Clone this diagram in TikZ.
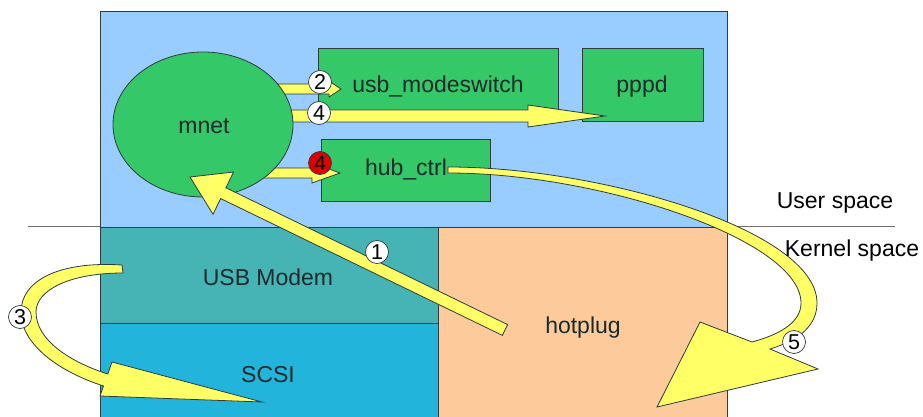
\documentclass[tikz,border=0pt]{standalone}
\usepackage{fontspec}
\setmainfont{Liberation Sans}
\usetikzlibrary{calc,shapes.geometric}

\definecolor{c99ccff}{RGB}{153,204,255}
\definecolor{c34c868}{RGB}{52,200,104}
\definecolor{c46b4b4}{RGB}{70,180,180}
\definecolor{c23b4dc}{RGB}{35,180,220}
\definecolor{cfdca9c}{RGB}{253,202,156}
\definecolor{cffff66}{RGB}{255,255,102}
\definecolor{c2d3c3c}{RGB}{45,60,60}
\definecolor{c1a2a2a}{RGB}{26,42,42}
\definecolor{cdd0000}{RGB}{221,0,0}
\definecolor{c707070}{RGB}{112,112,112}

% straight block arrow: tail, tip, shaft half width, head half width, head length
\newcommand{\blockarrow}[5]{%
  \coordinate (hb) at ($(#2)!#5!(#1)$);
  \path[flow] ($(#1)!#3!90:(#2)$) -- ($(hb)!#3!90:(#2)$) -- ($(hb)!#4!90:(#2)$)
    -- (#2) -- ($(hb)!#4!-90:(#2)$) -- ($(hb)!#3!-90:(#2)$)
    -- ($(#1)!#3!-90:(#2)$) -- cycle;}

\begin{document}
\begin{tikzpicture}[y=1pt, x=1pt, yscale=-1, inner sep=0pt, outer sep=0pt,
  box/.style={draw=c2d3c3c, line width=0.8pt, rectangle},
  flow/.style={draw=c2d3c3c, fill=cffff66, line width=0.8pt, line join=miter},
  lbl/.style={font=\fontsize{23}{27}\selectfont, text=c1a2a2a, anchor=base},
  num/.style={circle, draw=c2d3c3c, fill=white, line width=0.7pt,
    minimum size=23pt, font=\fontsize{21.5}{21.5}\selectfont}]
  \useasboundingbox (0,0) rectangle (923,417);
  \clip (0,0) rectangle (923,417);

  % user / kernel split
  \path[draw=c707070, line width=1pt] (28,226) -- (895,226);

  % blocks
  \node[box, fill=c99ccff, minimum width=627pt, minimum height=216pt] (userbox) at (413.5,119) {};
  \node[box, fill=c46b4b4, minimum width=338pt, minimum height=96pt] (modem) at (269,275) {};
  \node[box, fill=c23b4dc, minimum width=338pt, minimum height=100pt] (scsi) at (269,373) {};
  \node[box, fill=cfdca9c, minimum width=289pt, minimum height=200pt] (hotplug) at (582.5,327) {};
  \node[box, fill=c34c868, minimum width=240pt, minimum height=62pt] (usbms) at (438,79) {};
  \node[box, fill=c34c868, minimum width=121pt, minimum height=73pt] (pppd) at (642.5,84.5) {};
  \node[box, fill=c34c868, minimum width=169pt, minimum height=62pt] (hubctrl) at (405.5,170) {};

  % arrows out of mnet
  \coordinate (a2tail) at (270,89);
  \coordinate (a2tip) at (341,89);
  \coordinate (a4tail) at (280,116);
  \coordinate (a4tip) at (605,116);
  \coordinate (a4rtail) at (260,173);
  \coordinate (a4rtip) at (340,173);
  \blockarrow{a2tail}{a2tip}{5pt}{8pt}{12pt}
  \blockarrow{a4tail}{a4tip}{6pt}{11pt}{77pt}
  \blockarrow{a4rtail}{a4rtip}{5pt}{10pt}{28pt}

  \node[ellipse, draw=c2d3c3c, fill=c34c868, line width=0.8pt,
    minimum width=180pt, minimum height=145pt] (mnet) at (203,124.5) {};

  % labels
  \node[lbl] (tmnet) at (204,133) {mnet};
  \node[lbl] (tusbms) at (438,93) {usb\_modeswitch};
  \node[lbl] (tpppd) at (642,93) {pppd};
  \node[lbl] (thub) at (406,175) {hub\_ctrl};
  \node[lbl] (tmodem) at (268,285) {USB Modem};
  \node[lbl] (tscsi) at (268,382) {SCSI};
  \node[lbl] (thotplug) at (583,333) {hotplug};

  % 5: hub_ctrl round to hotplug
  \path[flow] (448,167) .. controls (600,167) and (817,230) .. (817,303)
    .. controls (817,325) and (800,340) .. (770,349)
    -- (818,369) -- (657,407) -- (700,322) -- (752,342)
    .. controls (785,333) and (801,320) .. (801,303)
    .. controls (801,240) and (600,173) .. (448,173) -- cycle;

  % 1: hotplug to mnet
  \coordinate (a1tail) at (505,330);
  \coordinate (a1tip) at (190,177);
  \blockarrow{a1tail}{a1tip}{6pt}{23.5pt}{37pt}

  % 3: USB Modem round to SCSI
  \path[flow] (122,265) .. controls (60,261) and (21,280) .. (21,312)
    .. controls (21,345) and (60,372) .. (103.5,386)
    -- (100,396) -- (262,402) -- (112,362) -- (107.8,374)
    .. controls (70,362) and (36,340) .. (36,312)
    .. controls (36,290) and (70,273) .. (123,273) -- cycle;

  % step numbers
  \node[num] (n1) at (377,252) {1};
  \node[num] (n2) at (320,82) {2};
  \node[num] (n3) at (20,317) {3};
  \node[num] (n4) at (319,113) {4};
  \node[num, fill=cdd0000] (n4r) at (320,163) {4};
  \node[num] (n5) at (794,342) {5};

  \node[lbl, text=black] (tuser) at (835,208) {User space};
  \node[lbl, text=black] (tkernel) at (852,256) {Kernel space};
\end{tikzpicture}
\end{document}
